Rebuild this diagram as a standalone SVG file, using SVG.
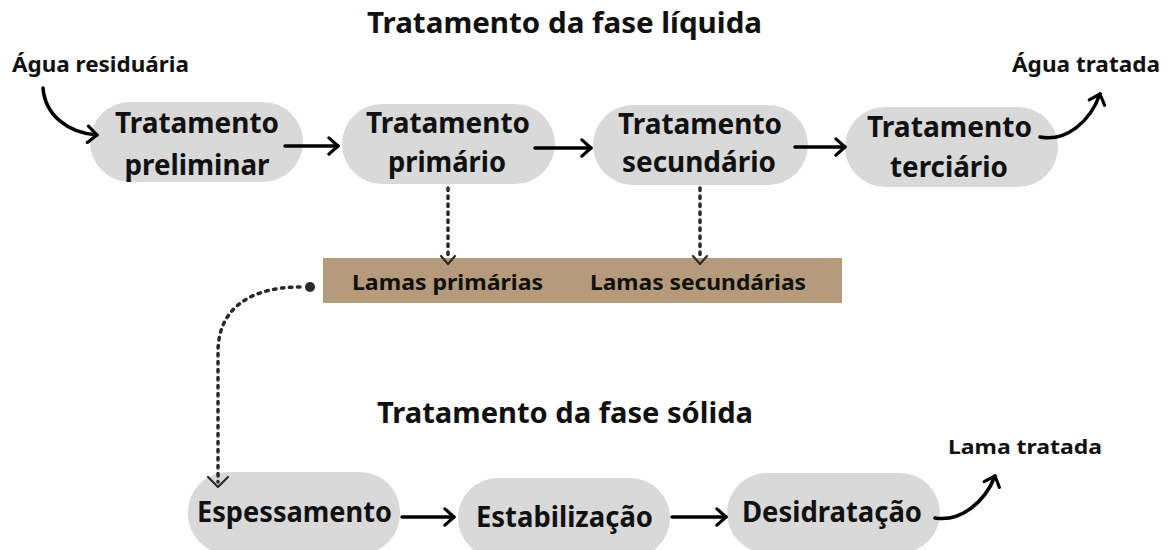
<svg xmlns="http://www.w3.org/2000/svg" width="1168" height="550" viewBox="0 0 1168 550">
<defs>
<style>
.node{fill:#d9d9d9}
.t{font-family:"Noto Sans","Open Sans","Liberation Sans",sans-serif;font-weight:700;font-stretch:semi-condensed;fill:#111;text-anchor:middle}
.nt{font-size:29px}
.title{font-size:29px}
.lab{font-size:22px}
.lam{font-size:21px}
.solid{fill:none;stroke:#000;stroke-width:3.5;stroke-linecap:round}
.dot{fill:none;stroke:#2a2a2a;stroke-width:3.5;stroke-linecap:round;stroke-dasharray:2.5 5.5}
.chev{fill:none;stroke:#2a2a2a;stroke-width:2.2;stroke-linecap:round;stroke-linejoin:round}
</style>
<marker id="ah" markerUnits="userSpaceOnUse" markerWidth="16" markerHeight="20" refX="10" refY="9" orient="auto" viewBox="-2 -2 15 22">
<path d="M0,0 L10,9 L0,18" fill="none" stroke="#000" stroke-width="3.5" stroke-linecap="round" stroke-linejoin="round"/>
</marker>
</defs>
<rect width="1168" height="550" fill="#fff"/>

<text class="t title" x="564.5" y="33" textLength="395" lengthAdjust="spacingAndGlyphs">Tratamento da fase líquida</text>
<text class="t title" x="565" y="423" textLength="376" lengthAdjust="spacingAndGlyphs">Tratamento da fase sólida</text>

<g id="agua-residuaria"><text class="t lab" x="100.5" y="72" textLength="177" lengthAdjust="spacingAndGlyphs">Água residuária</text></g>
<g id="agua-tratada"><text class="t lab" x="1086" y="72" textLength="148" lengthAdjust="spacingAndGlyphs">Água tratada</text></g>
<g id="lama-tratada"><text class="t lam" x="1025" y="454" textLength="154" lengthAdjust="spacingAndGlyphs" style="font-size:20px">Lama tratada</text></g>

<g id="preliminar">
<rect class="node" x="90" y="102" width="213" height="80" rx="40"/>
<text class="t nt" x="197" y="133" textLength="164" lengthAdjust="spacingAndGlyphs">Tratamento</text>
<text class="t nt" x="197" y="175" textLength="145" lengthAdjust="spacingAndGlyphs">preliminar</text>
</g>
<g id="primario">
<rect class="node" x="342" y="104" width="213" height="80" rx="40"/>
<text class="t nt" x="448" y="133" textLength="164" lengthAdjust="spacingAndGlyphs">Tratamento</text>
<text class="t nt" x="447" y="172" textLength="118" lengthAdjust="spacingAndGlyphs">primário</text>
</g>
<g id="secundario">
<rect class="node" x="593" y="105" width="215" height="80" rx="40"/>
<text class="t nt" x="700" y="134" textLength="164" lengthAdjust="spacingAndGlyphs">Tratamento</text>
<text class="t nt" x="699" y="172" textLength="154" lengthAdjust="spacingAndGlyphs">secundário</text>
</g>
<g id="terciario">
<rect class="node" x="845" y="107" width="213" height="80" rx="40"/>
<text class="t nt" x="949.5" y="137" textLength="165" lengthAdjust="spacingAndGlyphs">Tratamento</text>
<text class="t nt" x="949" y="177" textLength="118" lengthAdjust="spacingAndGlyphs">terciário</text>
</g>

<g id="lamas">
<rect x="323" y="258" width="519" height="45" fill="#b59a7b"/>
<text class="t lam" x="447.5" y="290" textLength="191" lengthAdjust="spacingAndGlyphs">Lamas primárias</text>
<text class="t lam" x="698" y="290" textLength="216" lengthAdjust="spacingAndGlyphs">Lamas secundárias</text>
</g>

<g id="espessamento">
<rect class="node" x="188" y="472" width="212" height="82" rx="40"/>
<text class="t nt" x="294.5" y="522" textLength="195" lengthAdjust="spacingAndGlyphs">Espessamento</text>
</g>
<g id="estabilizacao">
<rect class="node" x="458" y="478" width="212" height="80" rx="40"/>
<text class="t nt" x="564.5" y="527" textLength="177" lengthAdjust="spacingAndGlyphs">Estabilização</text>
</g>
<g id="desidratacao">
<rect class="node" x="727" y="473" width="213" height="80" rx="40"/>
<text class="t nt" x="832" y="522" textLength="180" lengthAdjust="spacingAndGlyphs">Desidratação</text>
</g>

<g id="connectors">
<path class="solid" d="M43,88 C45,115 68,133 97,135" marker-end="url(#ah)"/>
<path class="solid" d="M285,146 L338,146" marker-end="url(#ah)"/>
<path class="solid" d="M535,148 L591,148" marker-end="url(#ah)"/>
<path class="solid" d="M795,147 L845,147" marker-end="url(#ah)"/>
<path class="solid" d="M1040,137 C1066,142 1090,122 1100,94" marker-end="url(#ah)"/>
<path class="solid" d="M402,517 L454,517" marker-end="url(#ah)"/>
<path class="solid" d="M672,517 L726,517" marker-end="url(#ah)"/>
<path class="solid" d="M935,518 C961,522 985,502 995,476" marker-end="url(#ah)"/>

<path class="dot" d="M448,188 L448,260"/>
<path class="chev" d="M441,256 L448,264 L455,256"/>
<path class="dot" d="M700,188 L700,260"/>
<path class="chev" d="M693,256 L700,264 L707,256"/>

<circle cx="310" cy="287" r="5" fill="#2a2a2a"/>
<path class="dot" d="M300,287 C255,287 218,305 218,352 L218,482"/>
<path class="chev" d="M208,477 L218,487 L228,477"/>
</g>
</svg>
